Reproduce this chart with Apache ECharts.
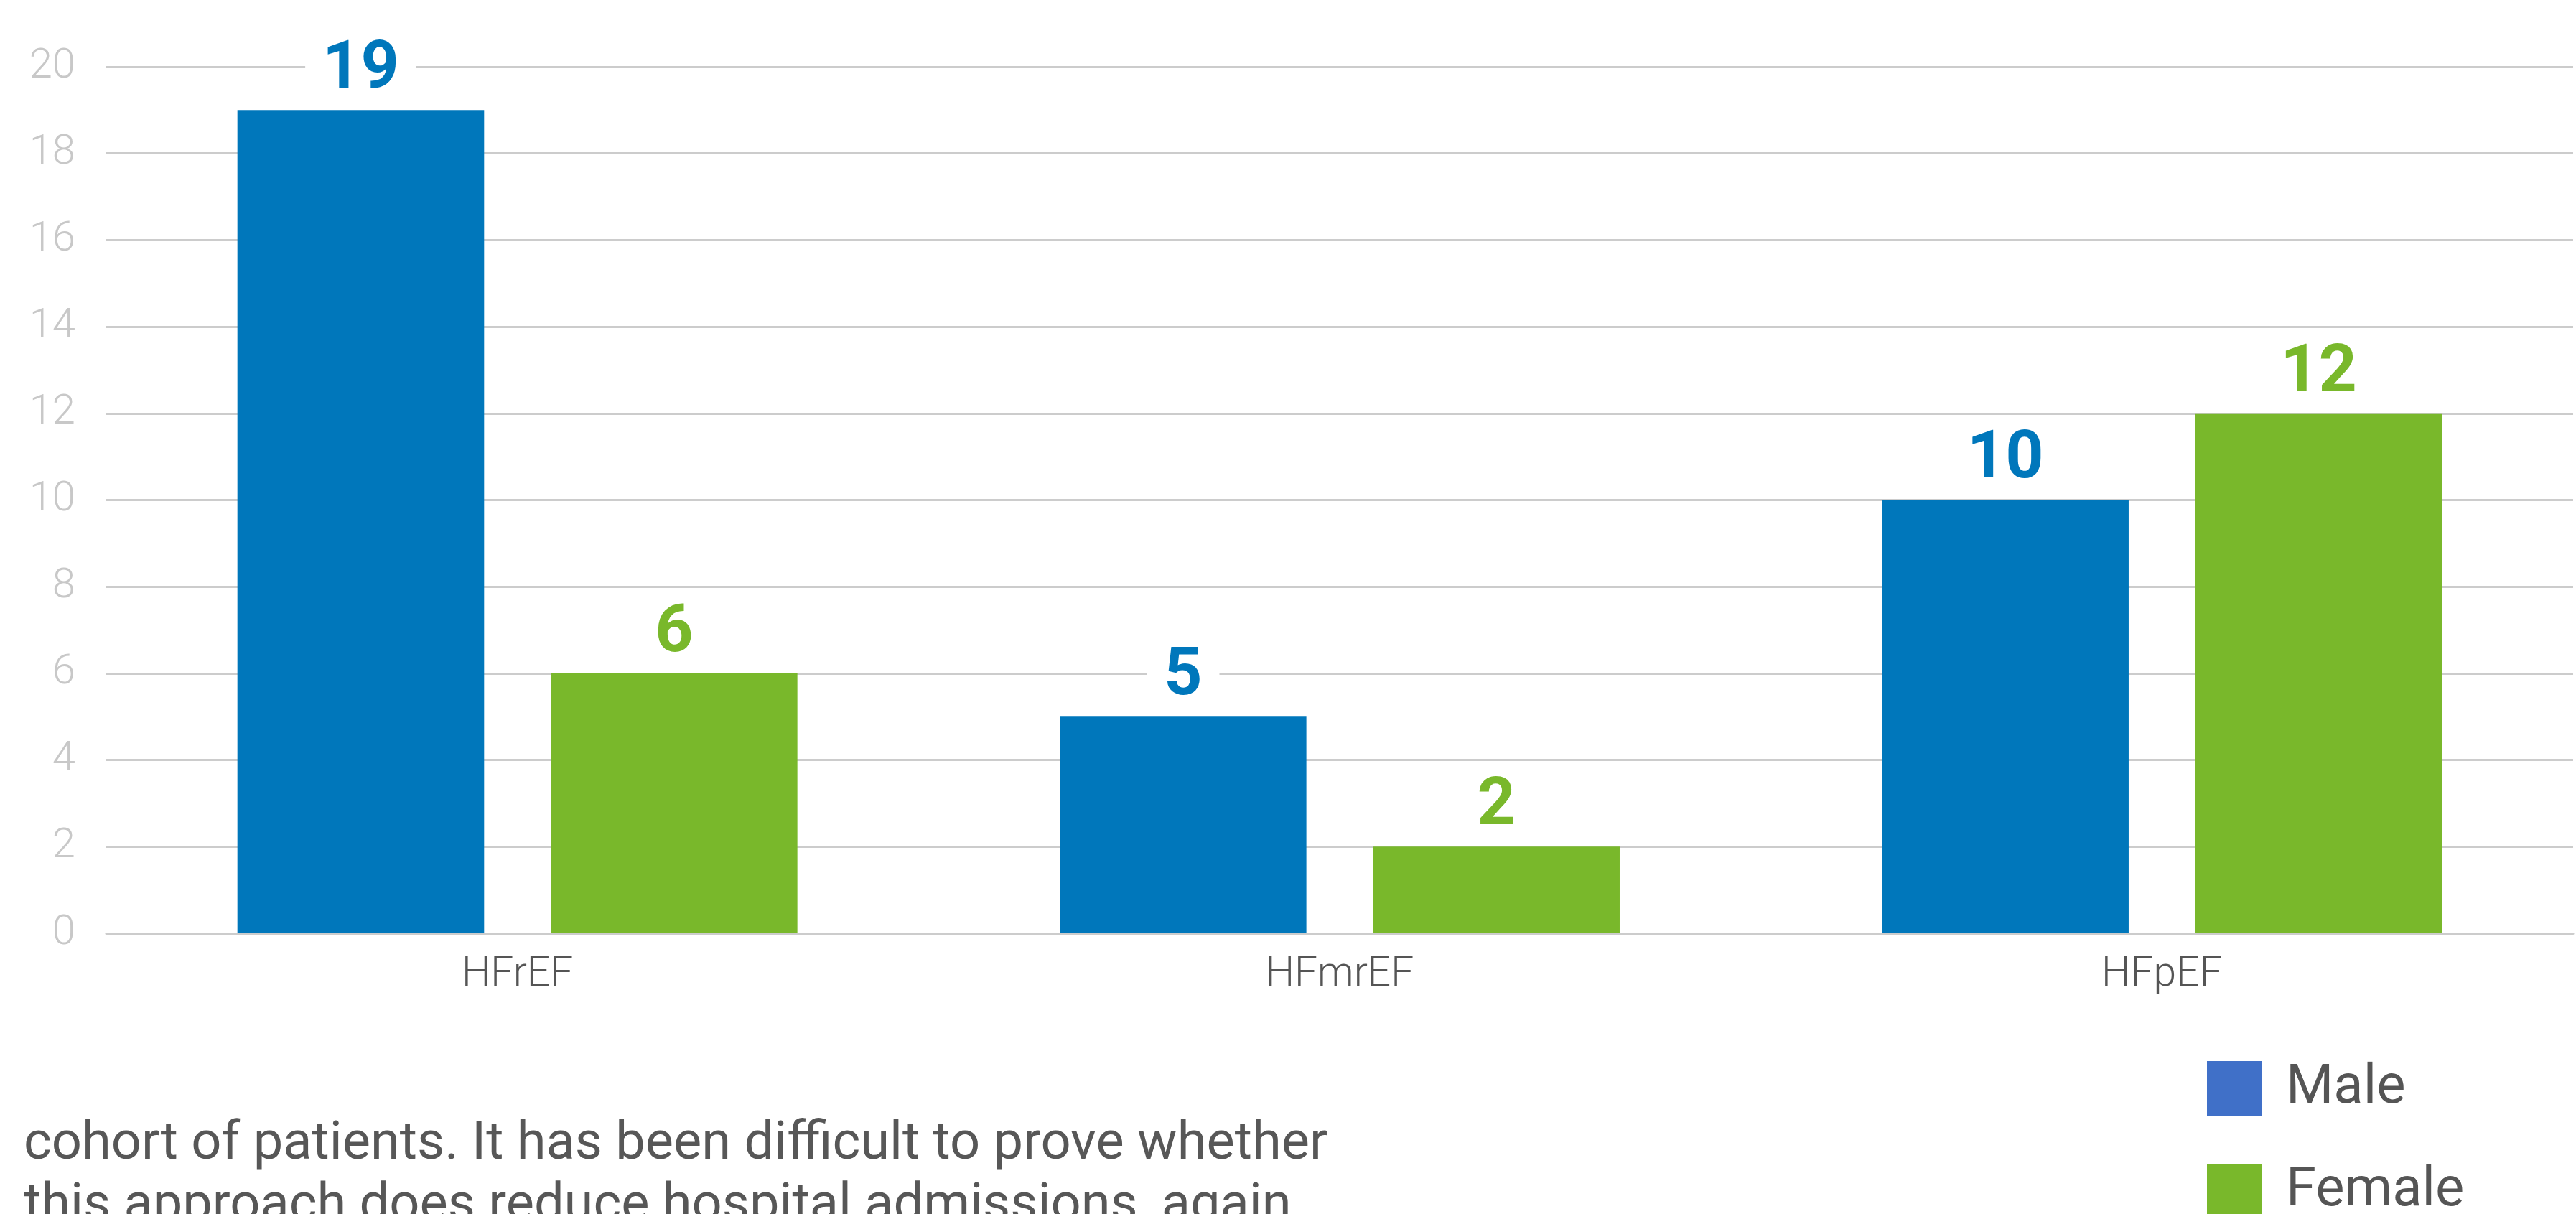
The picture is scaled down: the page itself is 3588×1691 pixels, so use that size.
<!DOCTYPE html>
<html>
<head>
<meta charset="utf-8">
<script src="https://cdn.jsdelivr.net/npm/echarts@6/dist/echarts.min.js"></script>
<style>
html,body{margin:0;padding:0;background:#fff;}
#chart{width:3588px;height:1691px;}
</style>
</head>
<body>
<div id="chart"></div>
<script>
var categories = ['HFrEF', 'HFmrEF', 'HFpEF'];
var maleValues = [19, 5, 10];
var femaleValues = [6, 2, 12];
var seriesNames = ['Male', 'Female'];
var bodyLines = [
  'cohort of patients. It has been difficult to prove whether',
  'this approach does reduce hospital admissions, again'
];

var BLUE = '#0077BB';
var GREEN = '#79B82B';
var LEG_BLUE = '#4070C8';
var GREY_LINE = '#CCCCCC';

var chart = echarts.init(document.getElementById('chart'), null, {renderer: 'canvas'});

function valueLabel(color) {
  return {
    show: true,
    position: 'top',
    distance: 8,
    color: color,
    fontFamily: 'Roboto',
    fontWeight: 'bold',
    fontSize: 93,
    lineHeight: 93,
    backgroundColor: '#ffffff',
    padding: [0, 24]
  };
}

function legendBlock(idx, color, top) {
  return {
    orient: 'vertical',
    left: 3069,
    top: top,
    itemWidth: 77,
    itemHeight: 77,
    icon: 'rect',
    data: [{name: seriesNames[idx], itemStyle: {color: color}}],
    textStyle: {
      color: '#555555',
      fontFamily: 'Roboto',
      fontSize: 76,
      lineHeight: 77,
      padding: [0, 0, 0, 28]
    }
  };
}

var option = {
  backgroundColor: '#ffffff',
  animation: false,
  grid: {left: 148, right: 4, top: 93, bottom: 391, containLabel: false},
  xAxis: {
    type: 'category',
    data: categories,
    axisLine: {show: true, lineStyle: {color: GREY_LINE, width: 3}},
    axisTick: {show: false},
    axisLabel: {
      color: '#555555',
      fontFamily: 'Roboto',
      fontWeight: 300,
      fontSize: 57,
      margin: 30
    }
  },
  yAxis: {
    type: 'value',
    min: 0,
    max: 20,
    interval: 2,
    axisLine: {show: false},
    axisTick: {show: false},
    splitLine: {show: true, lineStyle: {color: GREY_LINE, width: 3}},
    axisLabel: {
      color: '#C8C8C8',
      fontFamily: 'Roboto',
      fontWeight: 300,
      fontSize: 58,
      margin: 43
    }
  },
  legend: [
    legendBlock(0, LEG_BLUE, 1473),
    legendBlock(1, GREEN, 1616)
  ],
  graphic: [
    {
      type: 'text',
      left: 33,
      top: 1558,
      style: {
        text: bodyLines[0],
        fill: '#575757',
        font: '400 74px Roboto'
      }
    },
    {
      type: 'text',
      left: 33,
      top: 1644,
      style: {
        text: bodyLines[1],
        fill: '#575757',
        font: '400 74px Roboto'
      }
    }
  ],
  series: [
    {
      name: seriesNames[0],
      type: 'bar',
      data: maleValues,
      barWidth: '30%',
      barGap: '27%',
      itemStyle: {color: BLUE},
      label: valueLabel(BLUE),
      z: 3
    },
    {
      name: seriesNames[1],
      type: 'bar',
      data: femaleValues,
      barWidth: '30%',
      barGap: '27%',
      itemStyle: {color: GREEN},
      label: valueLabel(GREEN),
      z: 3
    }
  ]
};
chart.setOption(option);
</script>
</body>
</html>
